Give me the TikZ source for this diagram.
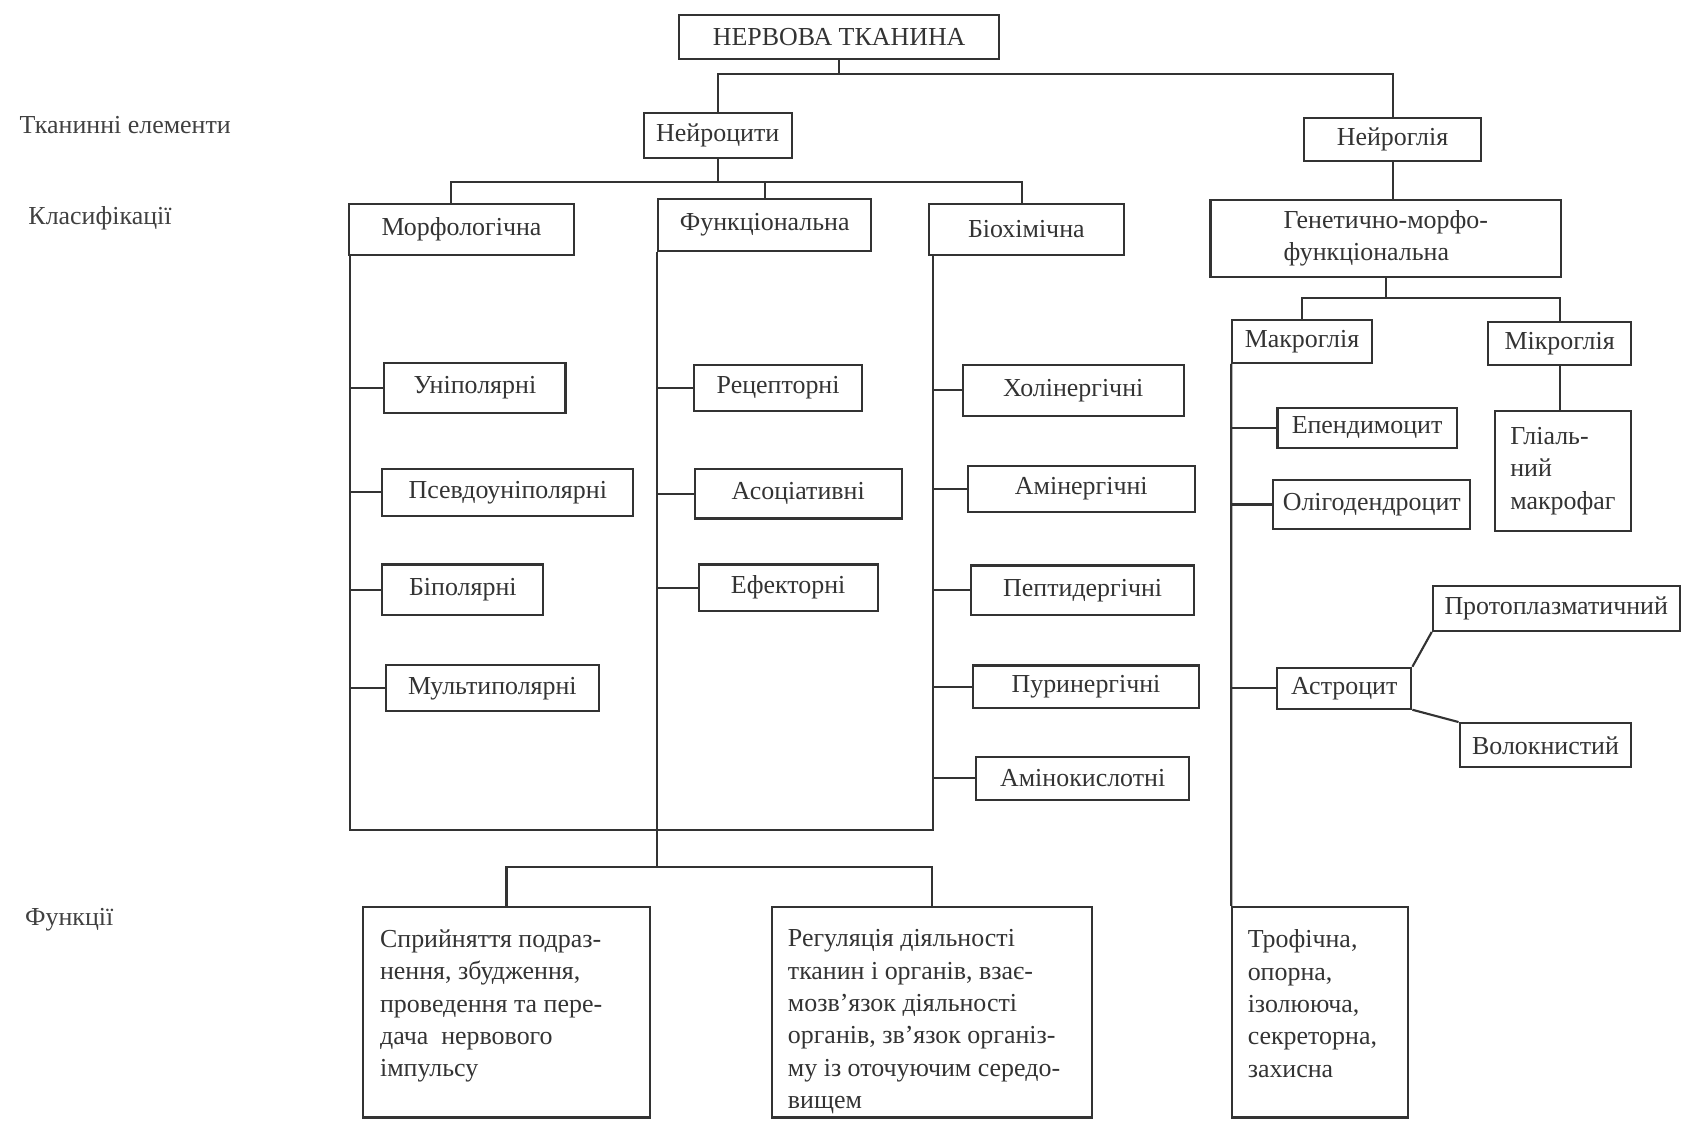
\documentclass[tikz,border=0pt]{standalone}
\usepackage{fontspec}
\setmainfont{Liberation Serif}
\usepackage{tikz}
\usetikzlibrary{positioning, calc}

\begin{document}
\begin{tikzpicture}[
		font=\fontsize{11}{13.7}\selectfont,
		box/.style={draw=black!80, line width=0.9pt, text=black!80, inner sep=2pt},
		fbox/.style={draw=black!80, line width=0.9pt, minimum height=3.14cm, inner sep=0pt},
		ftext/.style={text=black!80, align=left, anchor=north west, inner sep=0pt},
		lbl/.style={text=black!75, anchor=west},
		con/.style={draw=black!80, line width=0.9pt}
	]
		\useasboundingbox (0,0) rectangle (25.09,-16.70);

		% Row labels
		\node[lbl] (rowtis) at (0.17,-1.87) {Тканинні елементи};
		\node[lbl] (rowcls) at (0.30,-3.26) {Класифікації};
		\node[lbl] (rowfun) at (0.25,-13.71) {Функції};

		% Top level
		\node[box, minimum width=4.77cm, minimum height=0.66cm] (tissue) at (12.51,-0.55) {НЕРВОВА ТКАНИНА};
		\node[box, minimum width=2.21cm, minimum height=0.67cm] (neuro) at (10.70,-2.02) {Нейроцити};
		\node[box, minimum width=2.64cm, minimum height=0.64cm] (glia) at (20.76,-2.08) {Нейроглія};

		\draw[con] (tissue.south) -- ++(0,-0.21) coordinate (tb);
		\draw[con] (neuro.north) |- (tb) -| (glia.north);

		% Classifications
		\node[box, minimum width=3.36cm, minimum height=0.75cm] (morph) at (6.88,-3.42) {Морфологічна};
		\node[box, minimum width=3.18cm, minimum height=0.78cm] (func) at (11.40,-3.35) {Функціональна};
		\node[box, minimum width=2.90cm, minimum height=0.77cm] (bio) at (15.30,-3.42) {Біохімічна};
		\node[box, minimum width=5.23cm, minimum height=1.15cm, align=left] (genet) at (20.66,-3.55) {Генетично-морфо-\\функціональна};

		\draw[con] (neuro.south) -- ++(0,-0.34) coordinate (nb);
		\draw[con] ($(morph.north)+(-0.16,0)$) |- (nb) -| ($(bio.north)+(-0.07,0)$);
		\draw[con] (func.north) -- (func.north |- nb);
		\draw[con] (glia.south) -- (glia.south |- genet.north);

		% Glia
		\node[box, minimum width=2.08cm, minimum height=0.64cm] (makro) at (19.41,-5.09) {Макроглія};
		\node[box, minimum width=2.14cm, minimum height=0.64cm] (mikro) at (23.25,-5.12) {Мікроглія};

		\draw[con] (genet.south) -- ++(0,-0.30) coordinate (gb);
		\draw[con] (makro.north) |- (gb) -| (mikro.north);

		% Morphological
		\node[box, minimum width=2.70cm, minimum height=0.75cm] (uni) at (7.08,-5.78) {Уніполярні};
		\node[box, minimum width=3.74cm, minimum height=0.70cm] (pseudo) at (7.57,-7.34) {Псевдоуніполярні};
		\node[box, minimum width=2.40cm, minimum height=0.75cm] (bipol) at (6.90,-8.79) {Біполярні};
		\node[box, minimum width=3.18cm, minimum height=0.69cm] (multi) at (7.34,-10.26) {Мультиполярні};

		% Functional
		\node[box, minimum width=2.50cm, minimum height=0.69cm] (recep) at (11.60,-5.78) {Рецепторні};
		\node[box, minimum width=3.09cm, minimum height=0.74cm] (assoc) at (11.90,-7.36) {Асоціативні};
		\node[box, minimum width=2.67cm, minimum height=0.69cm] (effec) at (11.75,-8.76) {Ефекторні};

		% Biochemical
		\node[box, minimum width=3.30cm, minimum height=0.75cm] (chol) at (16.00,-5.82) {Холінергічні};
		\node[box, minimum width=3.38cm, minimum height=0.69cm] (amin) at (16.12,-7.29) {Амінергічні};
		\node[box, minimum width=3.33cm, minimum height=0.74cm] (pept) at (16.14,-8.80) {Пептидергічні};
		\node[box, minimum width=3.36cm, minimum height=0.64cm] (purin) at (16.19,-10.24) {Пуринергічні};
		\node[box, minimum width=3.17cm, minimum height=0.64cm] (amino) at (16.14,-11.60) {Амінокислотні};

		% Macroglia and microglia
		\node[box, minimum width=2.67cm, minimum height=0.59cm] (epend) at (20.38,-6.38) {Епендимоцит};
		\node[box, minimum width=2.94cm, minimum height=0.74cm] (oligo) at (20.45,-7.52) {Олігодендроцит};
		\node[box, minimum width=2.00cm, minimum height=0.61cm] (astro) at (20.04,-10.26) {Астроцит};
		\node[box, minimum width=3.68cm, minimum height=0.67cm] (proto) at (23.20,-9.07) {Протоплазматичний};
		\node[box, minimum width=2.56cm, minimum height=0.66cm] (fibr) at (23.04,-11.11) {Волокнистий};
		\node[box, minimum width=2.03cm, minimum height=1.78cm, align=left] (gmac) at (23.30,-7.02) {Гліаль-\\ний\\макрофаг};

		\draw[con] (mikro.south) -- (mikro.south |- gmac.north);
		\draw[con] (astro.north east) -- (proto.south west);
		\draw[con] (astro.south east) -- (fibr.north west);

		% Functions
		\node[fbox, minimum width=4.29cm] (fsense) at (7.55,-15.09) {};
		\node[fbox, minimum width=4.77cm] (freg) at (13.90,-15.09) {};
		\node[fbox, minimum width=2.62cm] (ftroph) at (19.68,-15.09) {};

		\node[ftext] (fsense-t) at ($(fsense.north west)+(0.27,-0.35)$) {Сприйняття подраз-\\нення, збудження,\\проведення та пере-\\дача\ \ нервового\\імпульсу};
		\node[ftext] (freg-t) at ($(freg.north west)+(0.24,-0.35)$) {Регуляція діяльності\\тканин і органів, взає-\\мозв'язок діяльності\\органів, зв'язок організ-\\му із оточуючим середо-\\вищем};
		\node[ftext] (ftroph-t) at ($(ftroph.north west)+(0.24,-0.35)$) {Трофічна,\\опорна,\\ізолююча,\\секреторна,\\захисна};

		% Trunk lines
		\coordinate (ml) at ($(morph.south west)+(0.04,0)$);
		\coordinate (fl) at (func.south west);
		\coordinate (bl) at ($(bio.south west)+(0.07,0)$);
		\coordinate (bot) at (0,-12.37);
		\coordinate (fbus) at (0,-12.93);

		\draw[con] (ml) -- (ml |- bot) -- (bl |- bot) -- (bl);
		\draw[con] (fl) -- (fl |- fbus);
		\draw[con] (fsense.north) |- (fl |- fbus) -| (freg.north);
		\draw[con] (makro.south west) -- (ftroph.north west);

		% Stubs
		\draw[con] (uni.west) -- (uni.west -| ml);
		\draw[con] (pseudo.west) -- (pseudo.west -| ml);
		\draw[con] (bipol.west) -- (bipol.west -| ml);
		\draw[con] (multi.west) -- (multi.west -| ml);

		\draw[con] (recep.west) -- (recep.west -| fl);
		\draw[con] (assoc.west) -- (assoc.west -| fl);
		\draw[con] (effec.west) -- (effec.west -| fl);

		\draw[con] (chol.west) -- (chol.west -| bl);
		\draw[con] (amin.west) -- (amin.west -| bl);
		\draw[con] (pept.west) -- (pept.west -| bl);
		\draw[con] (purin.west) -- (purin.west -| bl);
		\draw[con] (amino.west) -- (amino.west -| bl);

		\draw[con] (epend.west) -- (epend.west -| makro.south west);
		\draw[con] (oligo.west) -- (oligo.west -| makro.south west);
		\draw[con] (astro.west) -- (astro.west -| makro.south west);
	\end{tikzpicture}
\end{document}
